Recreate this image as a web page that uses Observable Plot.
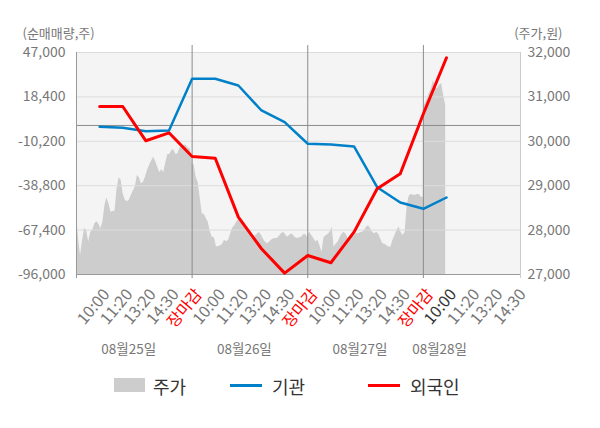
<!DOCTYPE html>
<html><head><meta charset="utf-8">
<script src="https://cdn.jsdelivr.net/npm/d3@7"></script>
<script src="https://cdn.jsdelivr.net/npm/@observablehq/plot@0.6"></script>
<style>
body{margin:0;background:#fff;font-family:"Noto Sans CJK KR","Noto Sans",sans-serif;}
#legend{position:relative;height:58px;width:600px;}
.sw{position:absolute;}
.lt{position:absolute;font-size:18px;color:#333;line-height:1;}
</style></head><body>
<div id="chart"></div>
<div id="legend">
  <span class="sw" style="left:114px;top:8px;width:31px;height:14px;background:#cdcdcd"></span>
  <span class="lt" style="left:153px;top:7px">주가</span>
  <span class="sw" style="left:230px;top:14px;width:32px;height:3px;background:#0080c8"></span>
  <span class="lt" style="left:272px;top:7px">기관</span>
  <span class="sw" style="left:368px;top:14px;width:32px;height:3px;background:#f00"></span>
  <span class="lt" style="left:410px;top:7px">외국인</span>
</div>
<script>
const slotLabels = ["10:00","11:20","13:20","14:30","장마감"];
const dayLabels = ["08월25일","08월26일","08월27일","08월28일"];
const leftTicks = [47000, 18400, -10200, -38800, -67400, -96000];
const rightTicks = [32000, 31000, 30000, 29000, 28000, 27000];
const institution = [-860,-1500,-3700,-3200,30060,30060,25750,9650,2110,-11800,-12250,-13540,-39750,-49600,-53660,-46400];
const foreigner = [12220,12220,-9870,-4720,-19980,-21080,-59070,-79420,-95130,-83730,-88430,-68730,-40780,-31120,7520,43590];
const priceDay1 = [28310,27810,27430,27770,28040,27990,27730,27950,27990,28140,
  28190,28140,28030,28180,28550,28730,28590,28400,28420,28430,
  28930,29180,29120,28820,28680,28640,28670,28780,28880,28970,
  29230,29180,29040,29080,29190,29340,29460,29550,29640,29550,
  29420,29300,29360,29300,29510,29700,29700,29790,29810,29700,
  29720,29850,29880,29910,29910,29850,29830,29610];
const priceDay2 = [29520,29460,29190,29070,28710,28370,28350,28260,28170,27950,
  27840,27830,27620,27630,27650,27680,27770,27740,27770,27920,
  28040,28100,28180,28240,28220,28130,28060,28010,27950,27880,
  27870,27860,27900,27950,27900,27810,27740,27690,27720,27770,
  27800,27810,27810,27860,27920,27950,27900,27840,27880,27920,
  27880,27830,27810,27830,27840,27900,27900,27830];
const priceDay3 = [27860,27950,27880,27810,27730,27770,27650,27500,27830,27870,
  27900,27950,28070,27620,27680,27730,27840,27920,27950,27900,
  27800,27810,27850,27880,27920,27920,27940,27950,27990,28070,
  28100,28030,27950,27920,27950,27900,27800,27690,27680,27650,
  27620,27620,27770,27880,27990,28070,27950,27880,27950,28550,
  28760,28800,28790,28780,28800,28800,28740,28740];
const priceDay4 = [30780,30850,30960,31080,31190,31370,31190,31190,31260,31300,31030,30810];

const Y_MAX = d3.max(leftTicks), Y_MIN = d3.min(leftTicks);
const P_MAX = d3.max(rightTicks), P_MIN = d3.min(rightTicks);
const toLeft = p => Y_MIN + (p - P_MIN) * (Y_MAX - Y_MIN) / (P_MAX - P_MIN);
const SLOTS = slotLabels.length;           // 5 slots per trading day
const X_MAX = 19.2;
const STEP = SLOTS / (priceDay1.length - 1);

const area = [priceDay1, priceDay2, priceDay3, priceDay4]
  .flatMap((arr, d) => arr.map((p, k) => ({t: d * SLOTS + k * STEP, v: toLeft(p)})));
const instData = institution.map((v, i) => ({t: i + 1, v}));
const forData = foreigner.map((v, i) => ({t: i + 1, v}));

const xLabels = [];
dayLabels.forEach((day, d) => slotLabels.forEach((s, k) => {
  const t = d * SLOTS + k + 1;
  if (t <= X_MAX) xLabels.push({t, label: s, kind: s === "장마감" ? "close" : (t === institution.length ? "now" : "time")});
}));
const dayPos = dayLabels.map((d, i) => ({label: d, t: i * SLOTS + (i < 3 ? 2.26 : 0.7)}));
const fmt = d => d.toLocaleString("en-US");
const grey = "#777";
const FONT = '"Noto Sans CJK KR","Noto Sans",sans-serif';

const xText = (kind, fill) => Plot.text(xLabels.filter(d => d.kind === kind), {
  x: "t", text: "label", frameAnchor: "bottom", rotate: -50, textAnchor: "end",
  lineAnchor: "top", dx: 2, dy: 13, fontSize: 16, fill
});

const chart = Plot.plot({
  width: 600, height: 370,
  marginTop: 52, marginBottom: 96, marginLeft: 76, marginRight: 80,
  x: {domain: [0, X_MAX], axis: null},
  y: {domain: [Y_MIN, Y_MAX], axis: null},
  style: {fontFamily: FONT, background: "#fff"},
  marks: [
    Plot.frame({fill: "#f4f4f4", stroke: null}),
    Plot.areaY(area, {x: "t", y1: Y_MIN, y2: "v", fill: "#cdcdcd"}),
    Plot.ruleY(leftTicks, {stroke: "#dcdcdc"}),
    Plot.ruleY([0], {stroke: "#8c8c8c"}),
    Plot.ruleY([Y_MIN], {stroke: "#999"}),
    Plot.ruleX([SLOTS, 2 * SLOTS, 3 * SLOTS], {stroke: "#8c8c8c", insetTop: -7, insetBottom: -4}),
    Plot.ruleX([0], {stroke: "#999", insetBottom: -4}),
    Plot.ruleX([X_MAX], {stroke: "#ccc", insetBottom: -4}),
    Plot.line(instData, {x: "t", y: "v", stroke: "#0080c8", strokeWidth: 2.5}),
    Plot.line(forData, {x: "t", y: "v", stroke: "#f00", strokeWidth: 3}),
    Plot.text(leftTicks, {y: d => d, text: fmt, frameAnchor: "left", textAnchor: "end", dx: -11, fill: grey, fontSize: 14}),
    Plot.text(rightTicks, {y: d => toLeft(d), text: fmt, frameAnchor: "right", textAnchor: "start", dx: 7, fill: grey, fontSize: 14}),
    Plot.text(["(순매매량,주)"], {frameAnchor: "top-left", textAnchor: "start", lineAnchor: "bottom", dx: -54, dy: -15, fill: grey, fontSize: 13}),
    Plot.text(["(주가,원)"], {frameAnchor: "top-right", textAnchor: "end", lineAnchor: "bottom", dx: 42, dy: -15, fill: grey, fontSize: 13}),
    xText("time", grey),
    xText("close", "#f00"),
    xText("now", "#333"),
    Plot.text(dayPos, {x: "t", text: "label", frameAnchor: "bottom", dy: 79, fill: grey, fontSize: 13.5})
  ]
});
document.getElementById("chart").appendChild(chart);
</script></body></html>
